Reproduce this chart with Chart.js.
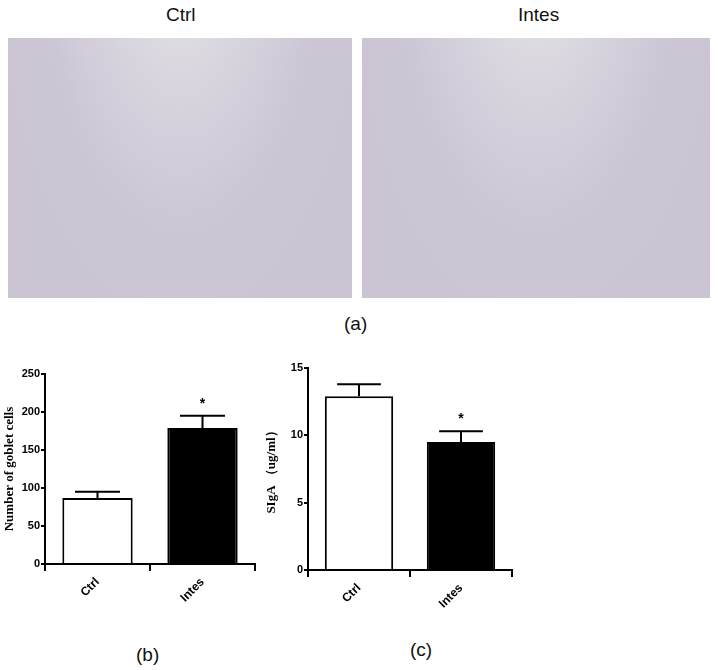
<!DOCTYPE html>
<html lang="en">
<head>
<meta charset="UTF-8">
<title>Goblet cells and SIgA</title>
<script src="https://cdn.jsdelivr.net/npm/chart.js"></script>
<style>
  body { margin: 0; background: #fff; font-family: "Liberation Sans", Arial, sans-serif; }
  .abs { position: absolute; }
  .lbl { font-size: 19px; color: #111; }
  .tissue { background: radial-gradient(ellipse at 50% -40%, #e9e6ea 0%, #d6d2dc 35%, #cbc5d4 60%, #c9c3d2 100%); }
</style>
</head>
<body>
<div class="abs lbl" style="left:166px;top:4px">Ctrl</div>
<div class="abs lbl" style="left:518px;top:4px">Intes</div>
<div class="abs tissue" style="left:8px;top:38px;width:344px;height:260px"></div>
<div class="abs tissue" style="left:362px;top:38px;width:348px;height:260px"></div>
<div class="abs lbl" style="left:344px;top:313px">(a)</div>
<div class="abs lbl" style="left:136px;top:644px">(b)</div>
<div class="abs lbl" style="left:410px;top:639px">(c)</div>
<div class="abs" style="left:0;top:365px;width:265px;height:265px"><canvas id="chartB"></canvas></div>
<div class="abs" style="left:262px;top:358px;width:262px;height:270px"><canvas id="chartC"></canvas></div>
<script>
// data
const groups = ['Ctrl', 'Intes'];
const gobletMeans = [87, 179];
const gobletErrors = [8, 16];
const sigaMeans = [12.9, 9.5];
const sigaErrors = [0.9, 0.8];
const starFlags = ['', '*'];

const errorBarPlugin = {
  id: 'errorBars',
  afterDatasetsDraw(chart, args, opts) {
    const ctx = chart.ctx, meta = chart.getDatasetMeta(0), y = chart.scales.y;
    ctx.save();
    ctx.strokeStyle = '#000';
    ctx.lineWidth = 2;
    ctx.fillStyle = '#000';
    meta.data.forEach((bar, i) => {
      const v = chart.data.datasets[0].data[i];
      const top = y.getPixelForValue(v + opts.errors[i]);
      const half = bar.width * 0.32;
      ctx.beginPath();
      ctx.moveTo(bar.x, bar.y);
      ctx.lineTo(bar.x, top);
      ctx.moveTo(bar.x - half, top);
      ctx.lineTo(bar.x + half, top);
      ctx.stroke();
      if (opts.stars[i]) {
        ctx.font = 'bold 14px "Liberation Sans", Arial';
        ctx.textAlign = 'center';
        ctx.fillText(opts.stars[i], bar.x, top - 8);
      }
    });
    ctx.restore();
  }
};

function makeChart(id, means, errors, max, step, title, yWidth, xHeight, pad) {
  new Chart(document.getElementById(id), {
    type: 'bar',
    data: {
      labels: groups,
      datasets: [{
        data: means,
        backgroundColor: ['#ffffff', '#000000'],
        borderColor: '#000',
        borderWidth: 2,
        categoryPercentage: 0.67,
        barPercentage: 1
      }]
    },
    options: {
      responsive: true,
      maintainAspectRatio: false,
      animation: false,
      layout: { padding: pad },
      plugins: {
        legend: { display: false },
        tooltip: { enabled: false },
        errorBars: { errors: errors, stars: starFlags }
      },
      scales: {
        x: {
          grid: { drawOnChartArea: false, color: '#000', tickLength: 7, lineWidth: 2 },
          border: { color: '#000', width: 2 },
          ticks: { color: '#000', maxRotation: 45, minRotation: 45, padding: 4, font: { family: '"Liberation Sans", Arial', weight: 'bold', size: 12 } },
          afterFit: s => { s.height = xHeight; }
        },
        y: {
          min: 0, max: max,
          grid: { drawOnChartArea: false, color: '#000', tickLength: 4, lineWidth: 2 },
          border: { color: '#000', width: 2 },
          ticks: { stepSize: step, color: '#000', padding: 1, font: { family: '"Liberation Sans", Arial', weight: 'bold', size: 11 } },
          title: { display: true, text: title, color: '#000', padding: 2, font: { family: '"Liberation Serif", "Times New Roman", serif', weight: 'bold', size: 13 } },
          afterFit: s => { s.width = yWidth; }
        }
      }
    },
    plugins: [errorBarPlugin]
  });
}

makeChart('chartB', gobletMeans, gobletErrors, 250, 50, 'Number of goblet cells', 45, 66, { top: 9, right: 10 });
makeChart('chartC', sigaMeans, sigaErrors, 15, 5, 'SIgA \uff08ug/ml\uff09', 46, 58, { top: 10, right: 12 });
</script>
</body>
</html>
